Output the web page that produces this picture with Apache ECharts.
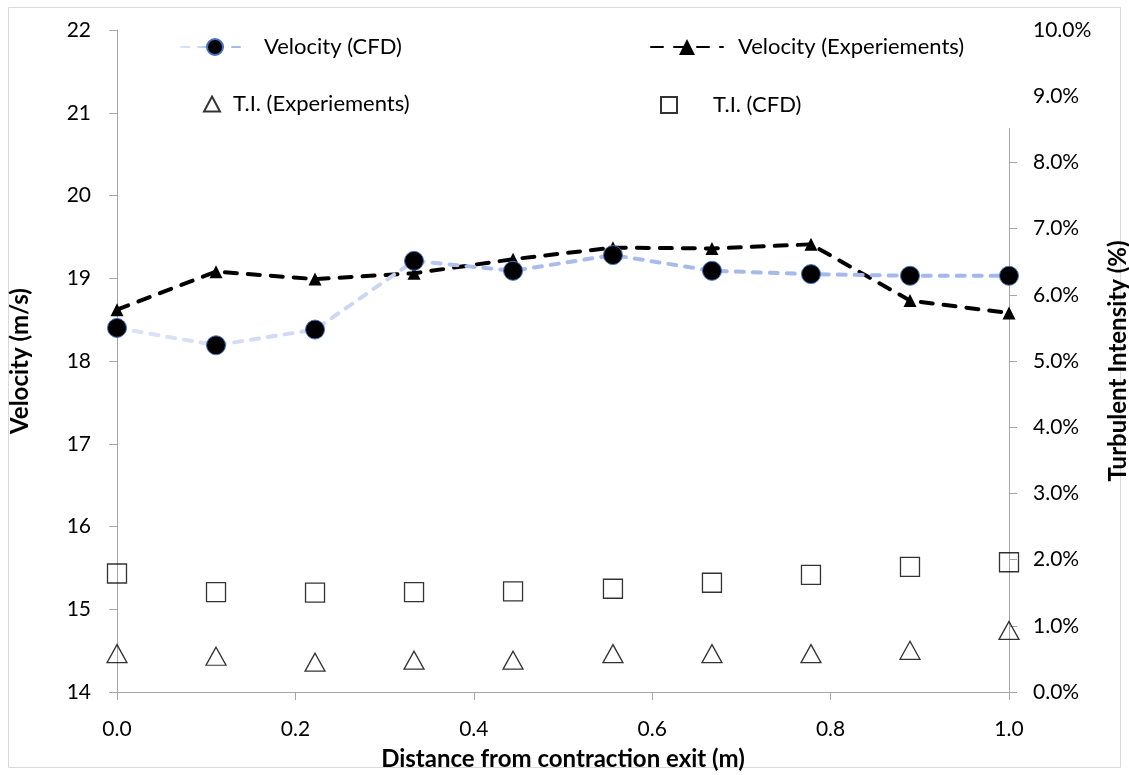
<!DOCTYPE html>
<html>
<head>
<meta charset="utf-8">
<script src="https://cdn.jsdelivr.net/npm/echarts@6/dist/echarts.min.js"></script>
<style>
html,body{margin:0;padding:0;background:#fff;}
#chart{width:1129px;height:775px;}
</style>
</head>
<body>
<div id="chart"></div>
<script>
// Distance from contraction exit (m)
var distance = [0, 0.111, 0.222, 0.333, 0.444, 0.556, 0.667, 0.778, 0.889, 1.0];
// Velocity (m/s)
var velCFD = [18.40, 18.19, 18.38, 19.21, 19.09, 19.28, 19.09, 19.05, 19.03, 19.03];
var velExp = [18.62, 19.08, 18.99, 19.06, 19.23, 19.37, 19.36, 19.41, 18.73, 18.58];
// Turbulent intensity (%)
var tiExp = [0.58, 0.54, 0.45, 0.48, 0.48, 0.58, 0.58, 0.58, 0.63, 0.93];
var tiCFD = [1.79, 1.51, 1.50, 1.51, 1.52, 1.56, 1.65, 1.77, 1.89, 1.96];

var names = ['Velocity (CFD)', 'Velocity (Experiements)', 'T.I. (Experiements)', 'T.I. (CFD)'];
var xTitle = 'Distance from contraction exit (m)';
var yTitle = 'Velocity (m/s)';
var y2Title = 'Turbulent Intensity (%)';

function pairs(xs, ys){ return xs.map(function(x,i){ return [x, ys[i]]; }); }

var FONT = 'Lato';
var LBL = 21;
var LEG = 22;
var TTL = 24;
var axisColor = '#A6A6A6';

var chart = echarts.init(document.getElementById('chart'), null, {renderer:'canvas'});
var cfdGrad = new echarts.graphic.LinearGradient(0,0,1,0,[
  {offset:0, color:'#DCE3F6'},
  {offset:0.3, color:'#C9D5F2'},
  {offset:0.4, color:'#A9BCEC'},
  {offset:1, color:'#A3B7EA'}
]);

function lg(name, left, top, w, h, pad){
  return {
    data:[name], left:left, top:top, itemWidth:w, itemHeight:h,
    orient:'horizontal', padding:0, itemGap:0, z:60,
    textStyle:{fontFamily:FONT, fontSize:LEG, color:'#000', padding:[0,0,0,pad]}
  };
}

chart.setOption({
  animation:false,
  backgroundColor:'#fff',
  textStyle:{fontFamily:FONT},
  grid:{left:117, right:120, top:30, bottom:83, containLabel:false, outerBoundsMode:'none'},
  graphic:[
    {type:'rect', shape:{x:8.5, y:7.5, width:1112, height:760}, style:{fill:'none', stroke:'#D9D9D9', lineWidth:1}, z:-10, silent:true},
    {type:'rect', shape:{x:155, y:20, width:867, height:108}, style:{fill:'#fff'}, z:50, silent:true}
  ],
  legend:[
    lg(names[0], 180, 36, 68, 20, 10),
    lg(names[1], 650, 36, 72, 20, 10),
    lg(names[2], 203, 93, 16, 15, 8),
    lg(names[3], 660, 94, 16, 16, 31)
  ],
  xAxis:{
    type:'value', min:0, max:1, interval:0.2,
    name:xTitle, nameLocation:'middle', nameGap:55,
    nameTextStyle:{fontFamily:FONT, fontSize:TTL, fontWeight:'bold', color:'#000'},
    axisLine:{show:true, lineStyle:{color:axisColor, width:1}},
    axisTick:{show:true, inside:false, length:8, lineStyle:{color:axisColor}},
    axisLabel:{margin:27, fontSize:LBL, fontFamily:FONT, color:'#000', formatter:function(v){return v.toFixed(1);}},
    splitLine:{show:false}
  },
  yAxis:[
    {
      type:'value', min:14, max:22, interval:1, position:'left',
      name:yTitle, nameLocation:'middle', nameGap:85, nameRotate:90,
      nameTextStyle:{fontFamily:FONT, fontSize:TTL, fontWeight:'bold', color:'#000'},
      axisLine:{show:true, lineStyle:{color:axisColor, width:1}},
      axisTick:{show:true, inside:false, length:8, lineStyle:{color:axisColor}},
      axisLabel:{margin:26, fontSize:LBL, fontFamily:FONT, color:'#000'},
      splitLine:{show:false}
    },
    {
      type:'value', min:0, max:10, interval:1, position:'right',
      name:y2Title, nameLocation:'middle', nameGap:97, nameRotate:90,
      nameTextStyle:{fontFamily:FONT, fontSize:TTL, fontWeight:'bold', color:'#000'},
      axisLine:{show:true, lineStyle:{color:axisColor, width:1}},
      axisTick:{show:true, inside:false, length:8, lineStyle:{color:axisColor}},
      axisLabel:{margin:24, fontSize:LBL, fontFamily:FONT, color:'#000', formatter:function(v){return v.toFixed(1)+'%';}},
      splitLine:{show:false}
    }
  ],
  series:[
    {
      name:names[0], type:'line', yAxisIndex:0, data:pairs(distance, velCFD), z:4,
      symbol:'circle', symbolSize:19,
      itemStyle:{color:'#000', borderColor:'#4472C4', borderWidth:1},
      lineStyle:{color:cfdGrad, width:4, type:[8,9], cap:'round'}
    },
    {
      name:names[1], type:'line', yAxisIndex:0, data:pairs(distance, velExp), z:3,
      symbol:'triangle', symbolSize:13,
      itemStyle:{color:'#000'},
      lineStyle:{color:'#000', width:4, type:[12,11], cap:'round'}
    },
    {
      name:names[2], type:'scatter', yAxisIndex:1, data:pairs(distance, tiExp), z:2,
      symbol:'triangle', symbolSize:[20,18],
      itemStyle:{color:'rgba(0,0,0,0)', borderColor:'#000', borderWidth:1.3}
    },
    {
      name:names[3], type:'scatter', yAxisIndex:1, data:pairs(distance, tiCFD), z:2,
      symbol:'rect', symbolSize:19,
      itemStyle:{color:'rgba(0,0,0,0)', borderColor:'#000', borderWidth:1.3}
    }
  ]
});
</script>
</body>
</html>
